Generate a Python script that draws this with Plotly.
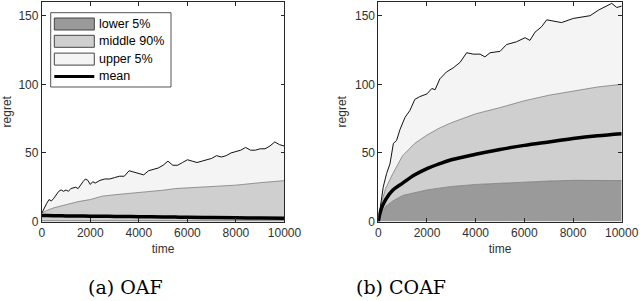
import plotly.graph_objects as go

# ---------------- data ----------------
# (a) OAF
oaf_t_smooth = [0, 200, 500, 1000, 1500, 2000, 2500, 3000, 3500, 4000, 5000, 5500, 6000, 7000, 8000, 9000, 10000]
oaf_p05 = [0.6, 0.6, 0.6, 0.6, 0.6, 0.6, 0.6, 0.6, 0.6, 0.6, 0.6, 0.6, 0.6, 0.6, 0.6, 0.6, 0.6]
oaf_p95 = [6, 8, 10, 12.5, 14.5, 16, 18.5, 19.5, 20.2, 21, 22.8, 24, 24.5, 25.8, 26.5, 28.3, 29.8]
oaf_mean = [4.4, 4.3, 4.2, 4.1, 4.0, 3.9, 3.8, 3.7, 3.6, 3.5, 3.3, 3.2, 3.1, 2.9, 2.7, 2.5, 2.4]

oaf_t_max = [0, 100, 200, 300, 400, 500, 600, 700, 800, 900, 1000, 1100, 1200, 1400, 1500, 1600,
             1700, 1800, 1900, 2000, 2100, 2200, 2400, 2600, 2800, 3000, 3200, 3400, 3600, 3800,
             4000, 4200, 4400, 4600, 4800, 5000, 5200, 5400, 5600, 5800, 6000, 6200, 6400, 6600,
             6800, 7000, 7200, 7400, 7600, 7800, 8000, 8200, 8400, 8600, 8800, 9000, 9200, 9400,
             9600, 9800, 10000]
oaf_max = [6, 10, 13, 16, 15, 17, 20, 22, 23, 22, 23, 22, 24, 25, 24, 27,
           29, 31, 30, 27, 29, 28, 30, 31, 31, 32, 33, 33, 37, 36,
           35, 34, 37, 38, 39, 41, 44, 41, 41, 43, 45, 44, 43, 44,
           45, 46, 48, 47, 48, 50, 51, 52, 54, 52, 52, 53, 53, 55,
           58, 56, 55]

# (b) COAF
coaf_t_smooth = [0, 100, 300, 600, 1000, 1500, 2000, 2500, 3000, 4000, 5000, 6000, 7000, 8000, 9000, 10000]
coaf_p05 = [0, 5, 11, 15, 19, 21, 23, 24.3, 25.5, 27, 28, 29, 29.5, 30, 30, 29.8]
coaf_p95 = [0, 12, 24, 35, 48, 57, 63, 68, 72, 78.5, 83, 88, 92, 95, 98, 100]
coaf_mean = [0, 8, 16, 23, 28, 34, 38.5, 42, 45, 49, 52.5, 55.5, 58, 60.5, 62.5, 64]

coaf_t_max = [0, 200, 340, 480, 620, 750, 890, 1100, 1300, 1500, 1700, 2000, 2200, 2330, 2530,
              2800, 3080, 3360, 3630, 3900, 4180, 4380, 4590, 5000, 5270, 5680, 6030, 6230, 6440,
              6710, 6920, 7190, 7530, 8010, 8420, 8700, 9040, 9380, 9590, 9800, 10000]
coaf_max = [0, 25, 35, 42, 57, 59, 67, 76, 81, 89, 91, 93, 97, 96, 104,
            109, 112, 116, 123, 122, 122, 120, 123, 124, 129, 131, 134, 132, 138,
            142, 147, 146, 145, 148, 149, 150, 154, 157, 159, 156, 157]

legend_names = ["lower 5%", "middle 90%", "upper 5%", "mean"]
x_ticks = [0, 2000, 4000, 6000, 8000, 10000]
x_tick_labels = ["0", "2000", "4000", "6000", "8000", "10000"]
y_ticks = [0, 50, 100, 150]
captions = ["(a) OAF", "(b) COAF"]

C_LOW = "#9a9a9a"
C_MID = "#cfcfcf"
C_UP = "#f4f4f4"
W, H = 640, 301

fig = go.Figure()

panels = [
    (oaf_t_smooth, oaf_p05, oaf_p95, oaf_mean, oaf_t_max, oaf_max, "x", "y"),
    (coaf_t_smooth, coaf_p05, coaf_p95, coaf_mean, coaf_t_max, coaf_max, "x2", "y2"),
]

for ts, p05, p95, mean, tm, mx, xa, ya in panels:
    fig.add_trace(go.Scatter(x=ts, y=p05, mode="lines", fill="tozeroy", fillcolor=C_LOW,
                             line=dict(color="#7a7a7a", width=0.8), name=legend_names[0],
                             showlegend=False, xaxis=xa, yaxis=ya))
    fig.add_trace(go.Scatter(x=ts, y=p95, mode="lines", fill="tonexty", fillcolor=C_MID,
                             line=dict(color="#7a7a7a", width=0.8), name=legend_names[1],
                             showlegend=False, xaxis=xa, yaxis=ya))
    fig.add_trace(go.Scatter(x=tm, y=mx, mode="lines", fill="tonexty", fillcolor=C_UP,
                             line=dict(color="#111111", width=1), name=legend_names[2],
                             showlegend=False, xaxis=xa, yaxis=ya))
    fig.add_trace(go.Scatter(x=ts, y=mean, mode="lines",
                             line=dict(color="black", width=3.5, shape="spline"), name=legend_names[3],
                             showlegend=False, xaxis=xa, yaxis=ya))

axis_common = dict(
    showgrid=False, zeroline=False, showline=True, linecolor="#262626", linewidth=0.8,
    mirror="ticks", ticks="inside", ticklen=4, tickcolor="#262626", tickwidth=0.8,
    automargin=False,
    tickfont=dict(family="Liberation Sans, Arial, sans-serif", size=12, color="#303030"),
)
title_font = dict(family="Liberation Sans, Arial, sans-serif", size=12, color="#303030")

fig.update_layout(
    width=W, height=H,
    margin=dict(l=0, r=0, t=0, b=0),
    paper_bgcolor="white", plot_bgcolor="white",
    showlegend=False,
    xaxis=dict(domain=[0.0652, 0.4445], range=[0, 10000], tickvals=x_ticks, ticktext=x_tick_labels,
               title=dict(text="time", font=title_font, standoff=5), anchor="y", **axis_common),
    yaxis=dict(domain=[0.2641, 0.9934], range=[0, 160], tickvals=y_ticks,
               title=dict(text="regret", font=title_font, standoff=5), anchor="x", **axis_common),
    xaxis2=dict(domain=[0.5911, 0.9714], range=[0, 10000], tickvals=x_ticks, ticktext=x_tick_labels,
                title=dict(text="time", font=title_font, standoff=5), anchor="y2", **axis_common),
    yaxis2=dict(domain=[0.2641, 0.9934], range=[0, 160], tickvals=y_ticks,
                title=dict(text="regret", font=title_font, standoff=5), anchor="x2", **axis_common),
)

# ---- legend box drawn as layout decoration (pixel positions -> paper) ----
def px(x):
    return x / W

def py(y):
    return 1 - y / H

fig.add_shape(type="rect", xref="paper", yref="paper",
              x0=px(50.7), x1=px(171), y0=py(87), y1=py(12.7),
              line=dict(color="#262626", width=0.8), fillcolor="white", layer="above")
swatch_fills = [C_LOW, C_MID, C_UP]
row_centers = [24, 41.3, 59.1, 76.4]
for i, name in enumerate(legend_names):
    yc = row_centers[i]
    if i < 3:
        fig.add_shape(type="rect", xref="paper", yref="paper",
                      x0=px(54.3), x1=px(94.3), y0=py(yc + 6), y1=py(yc - 6),
                      line=dict(color="#444444", width=1), fillcolor=swatch_fills[i], layer="above")
    else:
        fig.add_shape(type="line", xref="paper", yref="paper",
                      x0=px(54.3), x1=px(94.3), y0=py(yc), y1=py(yc),
                      line=dict(color="black", width=3), layer="above")
    fig.add_annotation(text=name, x=px(96.5), y=py(yc), xref="paper", yref="paper",
                       xanchor="left", yanchor="middle", showarrow=False,
                       font=dict(family="Liberation Sans, Arial, sans-serif", size=12.5, color="black"))

for cap, xc in zip(captions, [125.5, 401]):
    fig.add_annotation(text=cap, x=px(xc), y=py(287), xref="paper", yref="paper",
                       xanchor="center", yanchor="middle", showarrow=False,
                       font=dict(family="DejaVu Serif, serif", size=19, color="black"))

fig.write_html("out.html", post_script="document.body.style.margin='0';",
               config={"displayModeBar": False})
